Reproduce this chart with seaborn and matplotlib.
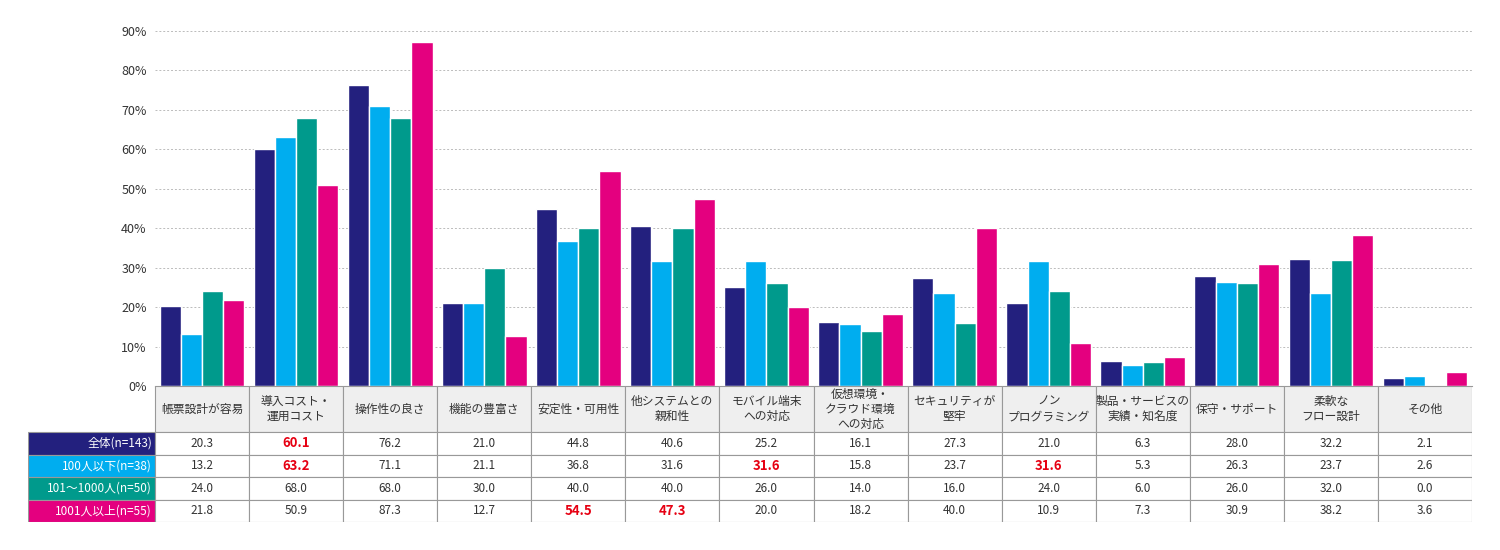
import numpy as np
import pandas as pd
import matplotlib
matplotlib.use('Agg')
import matplotlib.pyplot as plt
import seaborn as sns
from matplotlib.patches import Rectangle
from matplotlib.ticker import PercentFormatter

categories = ['帳票設計が容易', '導入コスト・\n運用コスト', '操作性の良さ', '機能の豊富さ',
              '安定性・可用性', '他システムとの\n親和性', 'モバイル端末\nへの対応',
              '仮想環境・\nクラウド環境\nへの対応', 'セキュリティが\n堅牢', 'ノン\nプログラミング',
              '製品・サービスの\n実績・知名度', '保守・サポート', '柔軟な\nフロー設計', 'その他']
groups = ['全体(n=143)', '100人以下(n=38)', '101〜1000人(n=50)', '1001人以上(n=55)']
all_vals = [20.3, 60.1, 76.2, 21.0, 44.8, 40.6, 25.2, 16.1, 27.3, 21.0, 6.3, 28.0, 32.2, 2.1]
small_vals = [13.2, 63.2, 71.1, 21.1, 36.8, 31.6, 31.6, 15.8, 23.7, 31.6, 5.3, 26.3, 23.7, 2.6]
mid_vals = [24.0, 68.0, 68.0, 30.0, 40.0, 40.0, 26.0, 14.0, 16.0, 24.0, 6.0, 26.0, 32.0, 0.0]
large_vals = [21.8, 50.9, 87.3, 12.7, 54.5, 47.3, 20.0, 18.2, 40.0, 10.9, 7.3, 30.9, 38.2, 3.6]
highlight = {(0, 1), (1, 1), (1, 6), (1, 9), (3, 4), (3, 5)}
colors = ['#23207e', '#00adef', '#009a8c', '#e4007f']

series = [all_vals, small_vals, mid_vals, large_vals]
df = pd.DataFrame([(c, g, v) for g, vals in zip(groups, series) for c, v in zip(categories, vals)],
                  columns=['cat', 'group', 'value'])

sns.set_style('white')
plt.rcParams['font.family'] = ['Noto Sans CJK JP', 'DejaVu Sans']

fig = plt.figure(figsize=(15, 5.5), dpi=100)
ax = fig.add_axes([155 / 1500, 1 - 386 / 550, 1317 / 1500, 355 / 550])
sns.barplot(data=df, x='cat', y='value', hue='group', palette=colors, width=0.9,
            saturation=1, ax=ax, legend=False)
ax.set_ylim(0, 90)
ax.set_xlim(-0.5, len(categories) - 0.5)
ax.set_yticks(range(0, 91, 10))
ax.yaxis.set_major_formatter(PercentFormatter(decimals=0))
ax.tick_params(axis='y', labelsize=9, colors='#333333', length=0, pad=6)
ax.set_xticks([])
ax.set_xlabel('')
ax.set_ylabel('')
ax.grid(axis='y', linestyle=(0, (2, 2)), color='#bbbbbb', linewidth=0.7)
ax.set_axisbelow(True)
for s in ['top', 'right', 'left']:
    ax.spines[s].set_visible(False)
ax.spines['bottom'].set_color('#999999')

# table
tx = fig.add_axes([28 / 1500, 1 - 522 / 550, 1444 / 1500, 136 / 550])
tx.set_xlim(28, 1472)
tx.set_ylim(522, 386)
tx.axis('off')
col_w = 1317 / len(categories)
header_h = 46
row_h = (136 - header_h) / 4
line = '#999999'
for j, cat in enumerate(categories):
    x0 = 155 + j * col_w
    tx.add_patch(Rectangle((x0, 386), col_w, header_h, facecolor='#efefef', edgecolor=line, lw=0.8))
    tx.text(x0 + col_w / 2, 386 + header_h / 2, cat, ha='center', va='center',
            fontsize=8.5, color='#333333', linespacing=1.2)
for i, g in enumerate(groups):
    y0 = 386 + header_h + i * row_h
    tx.add_patch(Rectangle((28, y0), 127, row_h, facecolor=colors[i], edgecolor=line, lw=0.8))
    tx.text(152, y0 + row_h / 2, g, ha='right', va='center', fontsize=8.5, color='white')
    for j, v in enumerate(series[i]):
        x0 = 155 + j * col_w
        tx.add_patch(Rectangle((x0, y0), col_w, row_h, facecolor='white', edgecolor=line, lw=0.8))
        hl = (i, j) in highlight
        tx.text(x0 + col_w / 2, y0 + row_h / 2, f'{v:.1f}', ha='center', va='center',
                fontsize=9.5 if hl else 8.5, color='#e60012' if hl else '#333333',
                fontweight='bold' if hl else 'normal')

fig.savefig('out.png', dpi=100)
